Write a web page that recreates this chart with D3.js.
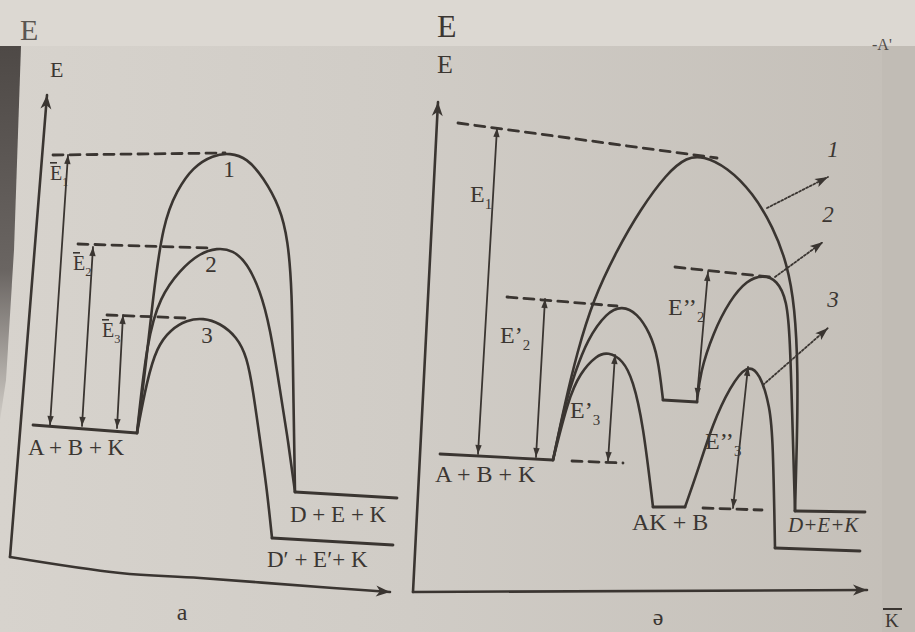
<!doctype html>
<html>
<head>
<meta charset="utf-8">
<style>
    body { margin: 0; background: #cfcbc5; }
    svg { display: block; }
    text { font-family: "Liberation Serif", "DejaVu Serif", serif; fill: #3b3632; }
    .ink { fill: none; stroke: #3a3531; stroke-linecap: round; stroke-linejoin: round; }
</style>
<script src="https://d3js.org/d3.v7.min.js"></script>
</head>
<body>
<svg width="915" height="632"></svg>
<script>
    // ---------- panel "a": reaction coordinate / energy (arbitrary units) ----------
    var aAxisY = [[0, 0], [9.25, 115.5]];
    var aAxisX = [[0, 0], [27.5, -4], [47.5, -5.25], [80.75, -7.75], [95, -8.75]];
    var aReactant = [[5.75, 33], [31.75, 31]];
    var aProduct = [[71.25, 16.25], [96.75, 14.75]];
    var aProductCat = [[65.5, 4.75], [95.75, 3]];
    var aCurve1 = [[31.75, 31], [33.75, 46], [35.75, 65], [38.25, 83.5], [41.75, 91.75], [45.75, 97.5],
        [50.75, 100.5], [55, 101], [59.25, 99.75], [63.25, 95], [67.5, 87.5], [69.5, 79.25],
        [70.5, 66.75], [70.75, 46], [71.25, 16.25]];
    var aCurve2 = [[31.75, 31], [34.25, 54.25], [37.5, 65], [42.5, 71.75], [47.5, 76], [51.75, 77.25],
        [55.75, 76.75], [59.25, 73.5], [62.5, 66.75], [65, 57.5], [67.5, 41.75], [69.5, 29.25],
        [71.25, 16.25]];
    var aCurve3 = [[31.75, 31], [34.25, 44.25], [36.75, 52.5], [40, 56.75], [44.25, 59.25], [48.25, 59.75],
        [52.5, 58.5], [56.75, 55], [59.25, 50], [60.75, 41.75], [62.5, 29.25], [64.25, 16.75],
        [65.5, 4.75]];
    var aDashes = [[[10.75, 100.5], [53.75, 101]], [[17, 78.25], [50, 77.25]], [[24.25, 60.5], [43.75, 59.75]]];
    var aArrows = [[[14.5, 100.5], [10, 33]], [[20.75, 77.5], [18, 32.75]], [[28.25, 60.5], [26.75, 32.25]]];
    var aEnergy = [{ main: "E", sub: "1", at: [10, 94.25] }, { main: "E", sub: "2", at: [15.75, 71.75] },
        { main: "E", sub: "3", at: [23, 55] }];
    var aNumbers = [{ t: "1", at: [54.75, 95] }, { t: "2", at: [50.25, 71.25] }, { t: "3", at: [49.25, 53.5] }];
    var aSpecies = [{ t: "A + B + K", at: [4.5, 25.5] }, { t: "D + E + K", at: [70, 8.75] },
        { t: "D\u2032 + E\u2032+ K", at: [64.25, -2.5] }];
    var aAxisLabel = { t: "E", at: [10, 120] };
    var aCaption = { t: "a", at: [43, -15.75] };

    // ---------- panel "ə" ----------
    var eAxisY = [[0, 0], [6.25, 122.5]];
    var eAxisX = [[0, 0], [113.5, 0.5]];
    var eReactant = [[6.75, 34.5], [35, 33]];
    var eProduct = [[95.5, 20.25], [113, 20]];
    var eProductCat = [[90.5, 11], [111.75, 10.25]];
    var eLevel2 = [[62.5, 48], [71, 47.5]];       // intermediate of path 2
    var eLevel3 = [[60, 21.25], [68, 21.25]];     // AK + B
    var eCurve1 = [[[35, 33], [38, 47.25], [41, 59.75], [45, 73], [51, 85.5], [56.75, 95.5], [63.5, 104.75],
        [68.5, 108.75], [72.5, 109], [78.5, 106.25], [85, 99.75], [90, 91.25], [93.5, 82.25],
        [95.5, 71.25], [96.25, 54.75], [96, 38], [95.5, 20.25]]];
    var eCurve2 = [
        [[35, 33], [38.25, 48], [40.5, 54.75], [43.5, 63], [48.5, 70], [52.25, 71.5], [56, 69.75],
            [59.25, 64.75], [61.25, 58.75], [62.5, 48]],
        [[71, 47.5], [71.75, 54.75], [75, 64.75], [79.25, 73], [83.5, 78], [87.5, 79.25], [91, 78],
            [93.5, 73], [94.25, 63], [94.75, 46.25], [95.5, 20.25]]];
    var eCurve3 = [
        [[35, 33], [38.75, 48], [41.75, 54.75], [46, 59.25], [48.75, 60], [52.5, 58], [55, 53],
            [57.5, 42.25], [60, 21.25]],
        [[68, 21.25], [71, 29.75], [75, 42.25], [79.25, 51.25], [83.5, 57], [86.75, 54.75],
            [89.25, 46.25], [90, 38], [90.5, 11]]];
    var eDashes = [[[11.25, 117.25], [76, 108.5]], [[23.5, 73.75], [51, 71.5]], [[65.5, 81.25], [89.25, 78.75]],
        [[39.75, 32.75], [52.5, 32.25]], [[72.5, 21], [87.25, 20.5]]];
    var eArrows = [[[21, 116], [16.25, 34.5]], [[33, 73.25], [30.75, 33.75]], [[73.75, 80], [71, 48.75]],
        [[50.5, 59.25], [48.75, 32.75]], [[83.75, 56.25], [80, 21]]];
    var eDotted = [[[88.5, 96], [103.75, 103.75]], [[90.5, 78.75], [102.5, 87.5]], [[87.5, 51.75], [103.75, 66]]];
    var eNumbers = [{ t: "1", at: [105, 108.75] }, { t: "2", at: [103.75, 92.5] }, { t: "3", at: [105, 71.25] }];
    var eEnergy = [{ main: "E", sub: "1", at: [14.25, 97.5] }, { main: "E\u2019", sub: "2", at: [21.75, 62.25] },
        { main: "E\u2019\u2019", sub: "2", at: [63.75, 69.25] }, { main: "E\u2019", sub: "3", at: [39.25, 43.5] },
        { main: "E\u2019\u2019", sub: "3", at: [73, 35.75] }];
    var eSpecies = [{ t: "A + B + K", at: [5.5, 27.5] }, { t: "AK + B", at: [54.75, 15.5] }];
    var eProductLabel = { t: "D+E+K", at: [93.75, 15] };
    var eAxisLabel = { t: "E", at: [6, 129.75] };
    var eCaption = { t: "\u0259", at: [61.25, -8.25] };

    var svg = d3.select("svg");

    // Scales for each panel
    var xA = d3.scaleLinear().domain([0, 95]).range([10, 390]);
    var yA = d3.scaleLinear().domain([0, 115.5]).range([557, 95]);
    var xE = d3.scaleLinear().domain([0, 113.5]).range([413, 867]);
    var yE = d3.scaleLinear().domain([0, 122.5]).range([592, 102]);

    // ---------- paper background ----------
    var defs = svg.append("defs");
    var bg = defs.append("linearGradient").attr("id", "paper");
    bg.append("stop").attr("offset", "0").attr("stop-color", "#d7d3cd");
    bg.append("stop").attr("offset", "0.45").attr("stop-color", "#d0ccc6");
    bg.append("stop").attr("offset", "1").attr("stop-color", "#c4bfb8");
    var band = defs.append("linearGradient").attr("id", "band").attr("x1", 0).attr("y1", 0).attr("x2", 0).attr("y2", 1);
    band.append("stop").attr("offset", "0").attr("stop-color", "#4e4946");
    band.append("stop").attr("offset", "0.6").attr("stop-color", "#6a6562");
    band.append("stop").attr("offset", "1").attr("stop-color", "#cfcbc5");

    svg.append("rect").attr("width", 915).attr("height", 632).attr("fill", "url(#paper)");
    svg.append("rect").attr("width", 915).attr("height", 46).attr("fill", "#dcd8d2");
    svg.append("rect").attr("x", 882).attr("y", 46).attr("width", 33).attr("height", 586).attr("fill", "#c1bcb5");
    svg.append("path").attr("d", "M0,46 L21,46 L14,250 L6,380 L0,420 Z").attr("fill", "url(#band)");

    // stray text visible at the photo's edges
    svg.append("text").attr("x", 20).attr("y", 40).attr("font-size", 30).attr("opacity", 0.8).text("E");
    svg.append("text").attr("x", 437).attr("y", 37).attr("font-size", 32).text("E");
    svg.append("text").attr("x", 872).attr("y", 50).attr("font-size", 16).attr("opacity", 0.85).text("-A'");
    svg.append("text").attr("x", 885).attr("y", 627).attr("font-size", 19).text("K");
    svg.append("line").attr("x1", 883).attr("x2", 902).attr("y1", 609).attr("y2", 609)
        .attr("stroke", "#3a3531").attr("stroke-width", 2);

    // ---------- arrow markers ----------
    function marker(id, d, size) {
        defs.append("marker").attr("id", id)
            .attr("markerUnits", "userSpaceOnUse")
            .attr("viewBox", (-size) + " " + (-size / 2) + " " + (size + 1) + " " + size)
            .attr("markerWidth", size + 1).attr("markerHeight", size)
            .attr("refX", 0).attr("refY", 0)
            .attr("orient", "auto-start-reverse")
            .append("path").attr("d", d).attr("fill", "#3a3531");
    }
    marker("axisHead", "M0,0 L-14,-5.5 L-10,0 L-14,5.5 Z", 16);
    marker("eHead", "M0,0 L-9,-3.2 L-9,3.2 Z", 10);
    marker("dotHead", "M0,0 L-13,-4.5 L-10,0 L-13,4.5 Z", 14);

    function lineFor(sx, sy, curve) {
        var l = d3.line().x(function (d) { return sx(d[0]); }).y(function (d) { return sy(d[1]); });
        if (curve) l.curve(curve);
        return l;
    }

    function drawPanel(p) {
        var g = svg.append("g");
        var smooth = lineFor(p.x, p.y, d3.curveCatmullRom.alpha(0.5));
        var soft = lineFor(p.x, p.y, d3.curveBasis);
        var straight = lineFor(p.x, p.y, null);

        // axes
        g.append("path").attr("class", "ink").attr("d", straight(p.axisY))
            .attr("stroke-width", 2.6).attr("marker-end", "url(#axisHead)");
        g.append("path").attr("class", "ink").attr("d", smooth(p.axisX))
            .attr("stroke-width", 2.6).attr("marker-end", "url(#axisHead)");

        // dashed level lines
        g.selectAll(null).data(p.dashes).enter().append("path").attr("class", "ink")
            .attr("d", straight).attr("stroke-width", 2.8).attr("stroke-linecap", "butt")
            .attr("stroke-dasharray", "10,7");

        // energy levels (flat lines)
        g.selectAll(null).data(p.levels).enter().append("path").attr("class", "ink")
            .attr("d", straight).attr("stroke-width", 2.8);

        // reaction paths
        g.selectAll(null).data(p.curves).enter().append("path").attr("class", "ink")
            .attr("d", soft).attr("stroke-width", 2.6);

        // activation-energy arrows
        g.selectAll(null).data(p.arrows).enter().append("path").attr("class", "ink")
            .attr("d", straight).attr("stroke-width", 1.8)
            .attr("marker-start", "url(#eHead)").attr("marker-end", "url(#eHead)");

        // dotted pointer arrows
        g.selectAll(null).data(p.dotted || []).enter().append("path").attr("class", "ink")
            .attr("d", straight).attr("stroke-width", 1.8).attr("stroke-linecap", "butt")
            .attr("stroke-dasharray", "2,2").attr("marker-end", "url(#dotHead)");

        // labels
        function txt(d, size) {
            return g.append("text").attr("x", p.x(d.at[0])).attr("y", p.y(d.at[1]))
                .attr("font-size", size).text(d.t);
        }
        p.species.forEach(function (d) { txt(d, p.speciesSize); });
        p.numbers.forEach(function (d) {
            txt(d, 23).attr("text-anchor", "middle").attr("font-style", p.italicNumbers ? "italic" : null);
        });
        p.energy.forEach(function (d) {
            var t = g.append("text").attr("x", p.x(d.at[0])).attr("y", p.y(d.at[1]))
                .attr("font-size", p.energySize);
            t.append("tspan").text(d.main);
            t.append("tspan").attr("dy", p.energySize * 0.28).attr("font-size", p.energySize * 0.62).text(d.sub);
            if (p.overbar) {
                var x0 = p.x(d.at[0]), y0 = p.y(d.at[1]) - p.energySize * 0.86;
                g.append("line").attr("x1", x0).attr("x2", x0 + 7).attr("y1", y0).attr("y2", y0)
                    .attr("stroke", "#3a3531").attr("stroke-width", 1.6);
            }
        });
        txt(p.axisLabel, p.axisLabelSize);
        txt(p.caption, 24).attr("text-anchor", "middle");
        return g;
    }

    drawPanel({
        x: xA, y: yA, axisY: aAxisY, axisX: aAxisX, dashes: aDashes,
        levels: [aReactant, aProduct, aProductCat],
        curves: [aCurve1, aCurve2, aCurve3],
        arrows: aArrows, species: aSpecies, speciesSize: 23,
        numbers: aNumbers, energy: aEnergy, energySize: 20, overbar: true,
        axisLabel: aAxisLabel, axisLabelSize: 22, caption: aCaption
    });

    var gE = drawPanel({
        x: xE, y: yE, axisY: eAxisY, axisX: eAxisX, dashes: eDashes,
        levels: [eReactant, eProduct, eProductCat, eLevel2, eLevel3],
        curves: eCurve1.concat(eCurve2, eCurve3),
        arrows: eArrows, dotted: eDotted, species: eSpecies, speciesSize: 24,
        numbers: eNumbers, italicNumbers: true, energy: eEnergy, energySize: 24,
        axisLabel: eAxisLabel, axisLabelSize: 26, caption: eCaption
    });

    gE.append("text").attr("x", xE(eProductLabel.at[0])).attr("y", yE(eProductLabel.at[1]))
        .attr("font-size", 21).attr("font-style", "italic").text(eProductLabel.t);
</script>
</body>
</html>
